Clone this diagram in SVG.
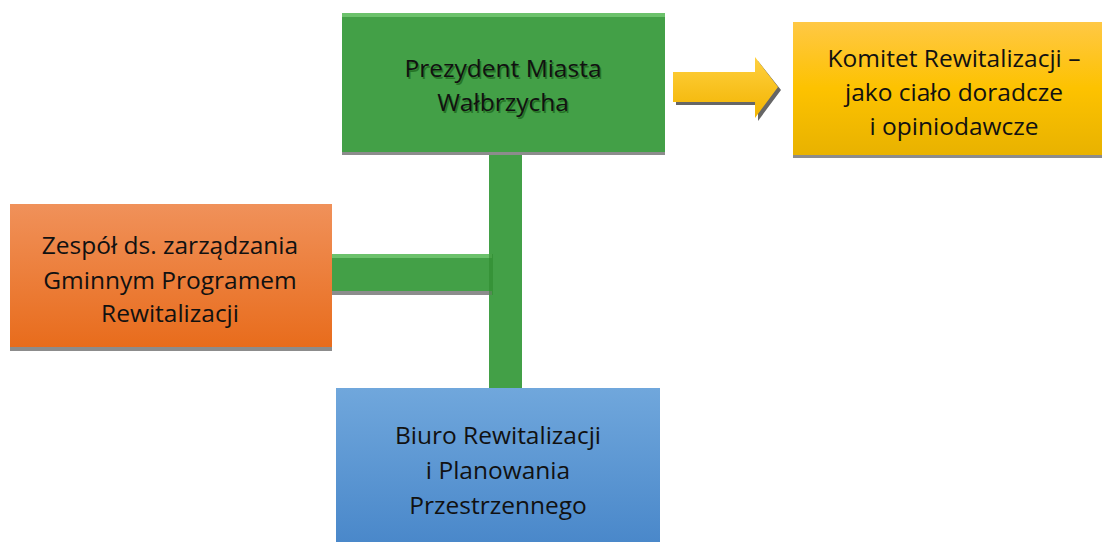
<svg xmlns="http://www.w3.org/2000/svg" width="1102" height="542" viewBox="0 0 1102 542">
<defs>
<linearGradient id="gOr" x1="0" y1="0" x2="0" y2="1"><stop offset="0" stop-color="#F0915A"/><stop offset="1" stop-color="#E86C1C"/></linearGradient>
<linearGradient id="gYe" x1="0" y1="0" x2="0" y2="1"><stop offset="0" stop-color="#FFC845"/><stop offset="0.5" stop-color="#FDC200"/><stop offset="1" stop-color="#E8B200"/></linearGradient>
<linearGradient id="gBl" x1="0" y1="0" x2="0" y2="1"><stop offset="0" stop-color="#70A7DC"/><stop offset="1" stop-color="#4A88CA"/></linearGradient>
<linearGradient id="gAr" x1="0" y1="0" x2="0" y2="1"><stop offset="0" stop-color="#FFD040"/><stop offset="1" stop-color="#F2B400"/></linearGradient>
</defs>
<style>
.t{font-family:"Open Sans","Noto Sans","Liberation Sans",sans-serif;font-size:24.5px;fill:#111;text-anchor:middle}
.ts{font-family:"Open Sans","Noto Sans","Liberation Sans",sans-serif;font-size:24.5px;fill:#1F6A1F;text-anchor:middle;opacity:0.8}
.sh{fill:#8C8C8C}
.gr{fill:#43A047}
.grl{fill:#6CC26C}
</style>
<g id="connectors">
<rect x="489" y="155" width="33" height="233" class="gr"/>
<rect x="332" y="258" width="160" height="37" class="sh"/>
<rect x="332" y="254" width="160" height="37" class="gr"/>
<rect x="332" y="254" width="160" height="4" class="grl"/>
<rect x="489" y="254" width="4" height="41" fill="#2E8B2E" opacity="0.6"/>
<g id="arrow">
<polygon points="676,76 758,76 758,61 781,90 758,121 758,105 676,105" fill="#666"/>
<polygon points="673,72 755,72 755,57 778,87 755,118 755,102 673,102" fill="url(#gAr)"/>
</g>
</g>
<g id="prezydent">
<rect x="342" y="17" width="323" height="138" class="sh"/>
<rect x="342" y="13" width="323" height="139" class="gr"/>
<rect x="342" y="13" width="323" height="4" class="grl"/>
<text class="ts" x="504.5" y="79">Prezydent Miasta</text>
<text class="ts" x="504.5" y="113">Wałbrzycha</text>
<text class="t" x="503" y="77">Prezydent Miasta</text>
<text class="t" x="503" y="111">Wałbrzycha</text>
</g>
<g id="komitet">
<rect x="793" y="25" width="309" height="133" class="sh"/>
<rect x="793" y="22" width="309" height="133" fill="url(#gYe)"/>
<text class="t" x="954" y="67">Komitet Rewitalizacji –</text>
<text class="t" x="954" y="101">jako ciało doradcze</text>
<text class="t" x="954" y="135">i opiniodawcze</text>
</g>
<g id="zespol">
<rect x="10" y="207" width="322" height="144" class="sh"/>
<rect x="10" y="204" width="322" height="143" fill="url(#gOr)"/>
<text class="t" x="170" y="254">Zespół ds. zarządzania</text>
<text class="t" x="170" y="289">Gminnym Programem</text>
<text class="t" x="170" y="322">Rewitalizacji</text>
</g>
<g id="biuro">
<rect x="336" y="388" width="324" height="154" fill="url(#gBl)"/>
<text class="t" x="498" y="444">Biuro Rewitalizacji</text>
<text class="t" x="498" y="479">i Planowania</text>
<text class="t" x="498" y="514">Przestrzennego</text>
</g>
</svg>
